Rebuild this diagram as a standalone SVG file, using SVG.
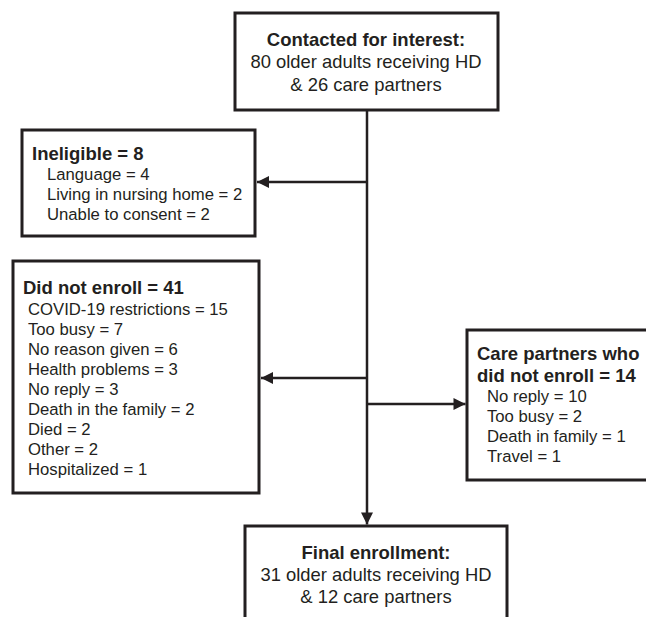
<svg xmlns="http://www.w3.org/2000/svg" width="646" height="617" viewBox="0 0 646 617">
  <style>
    .box { fill: #ffffff; stroke: #231f20; stroke-width: 3; }
    .conn { fill: none; stroke: #231f20; stroke-width: 2.5; }
    text { font-family: "Liberation Sans", Arial, sans-serif; fill: #231f20; }
    .h { font-weight: bold; font-size: 18.5px; }
    .b { font-size: 18.4px; }
    .i { font-size: 16.7px; }
    .c { text-anchor: middle; }
  </style>
  <defs>
    <marker id="arr" markerUnits="userSpaceOnUse" markerWidth="14" markerHeight="14" viewBox="0 0 14 14" refX="13" refY="7" orient="auto">
      <path d="M1,1 L13,7 L1,13 Z" fill="#231f20"/>
    </marker>
  </defs>
  <rect width="646" height="617" fill="#ffffff"/>

  <g id="connectors">
    <line class="conn" x1="367" y1="110" x2="367" y2="524.5" marker-end="url(#arr)"/>
    <line class="conn" x1="367" y1="182" x2="257" y2="182" marker-end="url(#arr)"/>
    <line class="conn" x1="367" y1="378" x2="261" y2="378" marker-end="url(#arr)"/>
    <line class="conn" x1="367" y1="404" x2="465.5" y2="404" marker-end="url(#arr)"/>
  </g>

  <g id="contacted">
    <rect class="box" x="235" y="13" width="263" height="97"/>
    <text class="h c" x="366" y="46">Contacted for interest:</text>
    <text class="b c" x="366" y="68.3">80 older adults receiving HD</text>
    <text class="b c" x="366" y="90.7">&amp; 26 care partners</text>
  </g>

  <g id="ineligible">
    <rect class="box" x="22" y="130" width="233" height="106"/>
    <text class="h" x="32" y="160">Ineligible = 8</text>
    <text class="i" x="47" y="180">Language = 4</text>
    <text class="i" x="47" y="200">Living in nursing home = 2</text>
    <text class="i" x="47" y="220">Unable to consent = 2</text>
  </g>

  <g id="did-not-enroll">
    <rect class="box" x="13" y="261" width="246" height="232"/>
    <text class="h" x="23" y="294">Did not enroll = 41</text>
    <text class="i" x="28" y="315">COVID-19 restrictions = 15</text>
    <text class="i" x="28" y="335">Too busy = 7</text>
    <text class="i" x="28" y="355">No reason given = 6</text>
    <text class="i" x="28" y="375">Health problems = 3</text>
    <text class="i" x="28" y="395">No reply = 3</text>
    <text class="i" x="28" y="415">Death in the family = 2</text>
    <text class="i" x="28" y="435">Died = 2</text>
    <text class="i" x="28" y="455">Other = 2</text>
    <text class="i" x="28" y="475">Hospitalized = 1</text>
  </g>

  <g id="care-partners">
    <rect class="box" x="467" y="330" width="200" height="150"/>
    <text class="h" x="477" y="360">Care partners who</text>
    <text class="h" x="477" y="381.5">did not enroll = 14</text>
    <text class="i" x="487" y="401.7">No reply = 10</text>
    <text class="i" x="487" y="421.7">Too busy = 2</text>
    <text class="i" x="487" y="441.7">Death in family = 1</text>
    <text class="i" x="487" y="461.7">Travel = 1</text>
  </g>

  <g id="final">
    <rect class="box" x="245" y="526" width="262" height="120"/>
    <text class="h c" x="376" y="558.5">Final enrollment:</text>
    <text class="b c" x="376" y="580.8">31 older adults receiving HD</text>
    <text class="b c" x="376" y="603.1">&amp; 12 care partners</text>
  </g>
</svg>
